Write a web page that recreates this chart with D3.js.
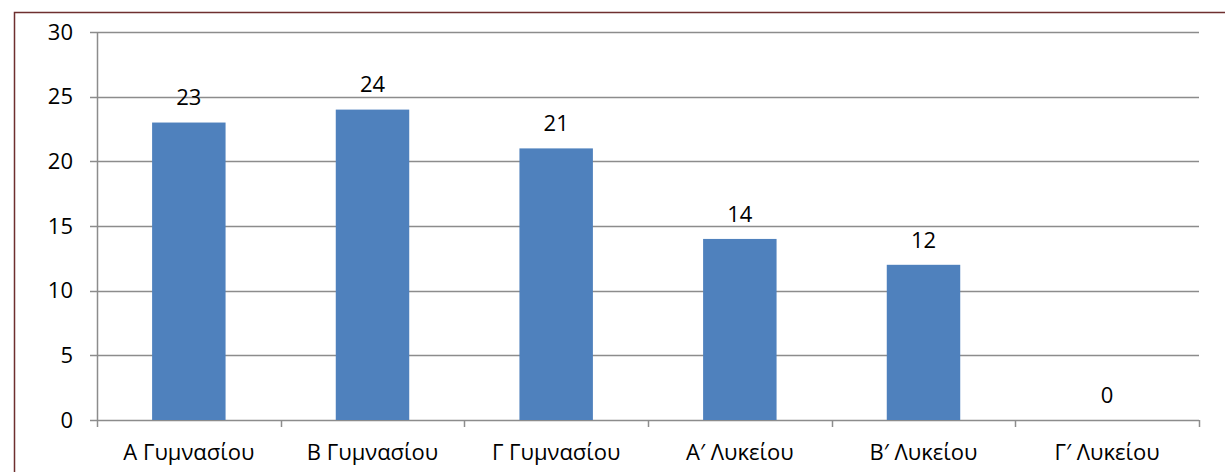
<!DOCTYPE html>
<html>
<head>
<meta charset="utf-8">
<script src="https://cdn.jsdelivr.net/npm/d3@7"></script>
<style>
  body { margin: 0; background: #fff; }
  text { font-family: "Open Sans", "Noto Sans", sans-serif; fill: #000; }
</style>
</head>
<body>
<div id="chart"></div>
<script>
const categories = ["Α Γυμνασίου", "Β Γυμνασίου", "Γ Γυμνασίου", "Α′ Λυκείου", "Β′ Λυκείου", "Γ′ Λυκείου"];
const values = [23, 24, 21, 14, 12, 0];
const yTicks = [0, 5, 10, 15, 20, 25, 30];

const width = 1225,
    height = 472;

const margin = { top: 32, right: 26, bottom: 52, left: 97 };

const svg = d3.select("#chart")
    .append("svg")
    .attr("width", width)
    .attr("height", height);

// outer frame
svg.append("rect")
    .attr("x", 14.5)
    .attr("y", 12.5)
    .attr("width", width)
    .attr("height", height)
    .attr("fill", "none")
    .attr("stroke", "#6e2f2f")
    .attr("stroke-width", 1.5);

const x = d3.scaleBand()
    .domain(categories)
    .range([margin.left, width - margin.right])
    .padding(0);

const y = d3.scaleLinear()
    .domain([0, 30])
    .range([height - margin.bottom, margin.top]);

// gridlines
svg.append("g")
    .selectAll(null)
    .data(yTicks)
    .join("line")
    .attr("x1", margin.left - 7)
    .attr("x2", width - margin.right)
    .attr("y1", d => Math.round(y(d)) + 0.5)
    .attr("y2", d => Math.round(y(d)) + 0.5)
    .attr("stroke", "#8c8c8c")
    .attr("stroke-width", 1.5);

// y axis labels
svg.append("g")
    .selectAll(null)
    .data(yTicks)
    .join("text")
    .attr("x", 73)
    .attr("y", d => y(d))
    .attr("dy", "0.35em")
    .attr("text-anchor", "end")
    .style("font-size", "22px")
    .text(d => d);

// y axis line
svg.append("line")
    .attr("x1", margin.left + 0.5)
    .attr("x2", margin.left + 0.5)
    .attr("y1", y(30))
    .attr("y2", y(0))
    .attr("stroke", "#8c8c8c")
    .attr("stroke-width", 1.5);

// x tick marks
const bounds = categories.map(c => x(c)).concat([width - margin.right]);
svg.append("g")
    .selectAll(null)
    .data(bounds)
    .join("line")
    .attr("x1", d => Math.round(d) + 0.5)
    .attr("x2", d => Math.round(d) + 0.5)
    .attr("y1", y(0))
    .attr("y2", y(0) + 7)
    .attr("stroke", "#8c8c8c")
    .attr("stroke-width", 1.5);

const barW = x.bandwidth() * 0.4;

// bars
svg.append("g")
    .selectAll(null)
    .data(values)
    .join("rect")
    .attr("x", (d, i) => x(categories[i]) + (x.bandwidth() - barW) / 2)
    .attr("y", d => y(d))
    .attr("width", barW)
    .attr("height", d => y(0) - y(d))
    .attr("fill", "#4f81bd");

// value labels
svg.append("g")
    .selectAll(null)
    .data(values)
    .join("text")
    .attr("x", (d, i) => x(categories[i]) + x.bandwidth() / 2)
    .attr("y", d => y(d) - 25)
    .attr("dy", "0.35em")
    .attr("text-anchor", "middle")
    .style("font-size", "22px")
    .text(d => d);

// category labels
svg.append("g")
    .selectAll(null)
    .data(categories)
    .join("text")
    .attr("x", d => x(d) + x.bandwidth() / 2)
    .attr("y", 452)
    .attr("dy", "0.35em")
    .attr("text-anchor", "middle")
    .style("font-size", "22px")
    .text(d => d);
</script>
</body>
</html>
